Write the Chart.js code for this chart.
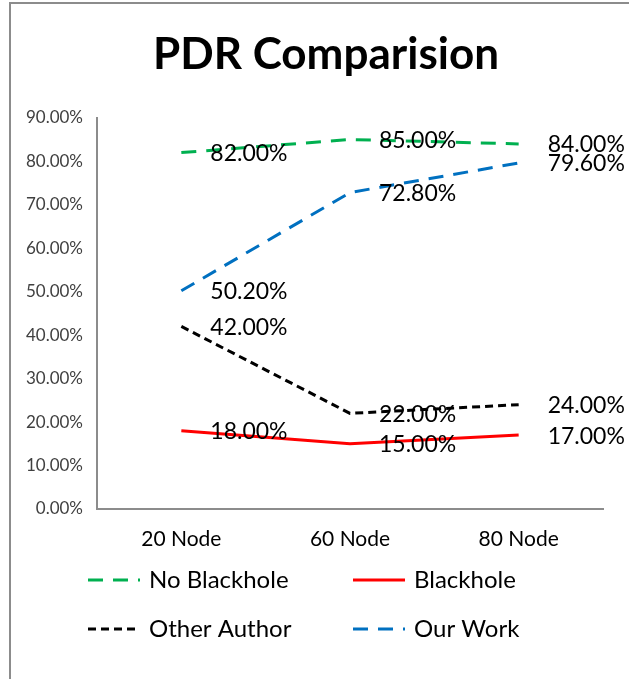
<!DOCTYPE html>
<html>
<head>
<meta charset="utf-8">
<script src="https://cdn.jsdelivr.net/npm/chart.js@4"></script>
<style>
  html, body { margin: 0; padding: 0; background: #fff; overflow: hidden; }
  #frame { position: absolute; left: 9px; top: 2px; width: 660px; height: 720px; border: 2px solid #8c8c8c; box-sizing: border-box; }
  #wrap { position: absolute; left: 11px; top: 4px; width: 630px; height: 675px; }
</style>
</head>
<body>
<div id="frame"></div>
<div id="wrap"><canvas id="pdrChart"></canvas></div>
<script>
// PDR comparison data (percent)
const categories = ['20 Node', '60 Node', '80 Node'];
const noBlackhole = [82.0, 85.0, 84.0];
const blackhole = [18.0, 15.0, 17.0];
const otherAuthor = [42.0, 22.0, 24.0];
const ourWork = [50.2, 72.8, 79.6];
const seriesNames = ['No Blackhole', 'Blackhole', 'Other Author', 'Our Work'];

// value labels to the right of each point
const pointLabels = {
  id: 'pointLabels',
  afterDatasetsDraw(chart) {
    const ctx = chart.ctx;
    ctx.save();
    ctx.font = '23px Lato';
    ctx.fillStyle = '#000';
    ctx.textAlign = 'left';
    ctx.textBaseline = 'middle';
    chart.data.datasets.forEach((ds, i) => {
      chart.getDatasetMeta(i).data.forEach((pt, j) => {
        ctx.fillText(ds.data[j].toFixed(2) + '%', pt.x + 29, pt.y + 1);
      });
    });
    ctx.restore();
  }
};

// 2x2 legend under the axis
const gridLegend = {
  id: 'gridLegend',
  afterDraw(chart) {
    const ctx = chart.ctx;
    const colX = [77, 342];
    const rowY = [576, 625];
    ctx.save();
    ctx.font = '24px Lato';
    ctx.textBaseline = 'middle';
    chart.data.datasets.forEach((ds, i) => {
      const x = colX[i % 2];
      const y = rowY[Math.floor(i / 2)];
      ctx.strokeStyle = ds.borderColor;
      ctx.lineWidth = ds.borderWidth;
      ctx.setLineDash(ds.borderDash || []);
      ctx.beginPath();
      ctx.moveTo(x, y);
      ctx.lineTo(x + 52, y);
      ctx.stroke();
      ctx.setLineDash([]);
      ctx.fillStyle = '#000';
      ctx.fillText(ds.label, x + 61, y);
    });
    ctx.restore();
  }
};

const ctx = document.getElementById('pdrChart').getContext('2d');
new Chart(ctx, {
  type: 'line',
  data: {
    labels: categories,
    datasets: [
      { label: seriesNames[0], data: noBlackhole, borderColor: '#00B050', borderDash: [15, 10], borderWidth: 3 },
      { label: seriesNames[1], data: blackhole, borderColor: '#FF0000', borderWidth: 3 },
      { label: seriesNames[2], data: otherAuthor, borderColor: '#000000', borderDash: [8, 5], borderWidth: 3 },
      { label: seriesNames[3], data: ourWork, borderColor: '#0070C0', borderDash: [15, 10], borderWidth: 3 }
    ]
  },
  options: {
    responsive: true,
    maintainAspectRatio: false,
    animation: false,
    elements: { point: { radius: 0 }, line: { tension: 0, fill: false } },
    layout: { padding: { top: 0, right: 0, bottom: 127, left: 0 } },
    plugins: {
      legend: { display: false },
      tooltip: { enabled: false },
      title: {
        display: true,
        text: 'PDR Comparision',
        color: '#000',
        font: { family: 'Lato', size: 44, weight: 'bold', lineHeight: 1.2 },
        padding: { top: 24, bottom: 37 }
      }
    },
    scales: {
      x: {
        offset: true,
        grid: { display: false, drawTicks: false },
        border: { display: true, color: '#8c8c8c', width: 2 },
        afterFit: (s) => { s.height = 43; },
        ticks: { color: '#000', font: { family: 'Lato', size: 21 }, padding: 18 }
      },
      y: {
        min: 0,
        max: 90,
        grid: { display: false, drawTicks: false },
        border: { display: true, color: '#8c8c8c', width: 2 },
        afterFit: (s) => { s.width = 86; },
        ticks: {
          stepSize: 10,
          color: '#404040',
          font: { family: 'Lato', size: 17 },
          padding: 14,
          callback: (v) => v.toFixed(2) + '%'
        }
      },
      // empty right-hand margin so the title stays centred on the whole frame
      yRight: {
        position: 'right',
        min: 0,
        max: 90,
        grid: { display: false, drawTicks: false },
        border: { display: false },
        ticks: { display: false },
        afterFit: (s) => { s.width = 38; }
      }
    }
  },
  plugins: [pointLabels, gridLegend]
});
</script>
</body>
</html>
